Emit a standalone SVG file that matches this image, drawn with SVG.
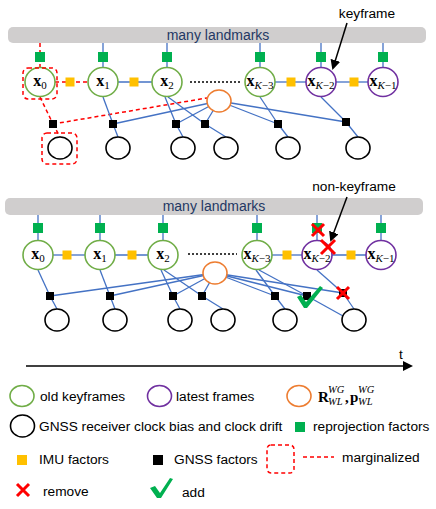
<svg xmlns="http://www.w3.org/2000/svg" width="436" height="509" viewBox="0 0 436 509">
<defs>
<style>
.bar{fill:#D0CECE;}
.bartxt{font-family:"Liberation Sans",Arial,sans-serif;font-size:14px;fill:#1F3864;text-anchor:middle;}
.e{stroke:#4472C4;stroke-width:1.3;fill:none;}
.m{stroke:#FF0000;stroke-width:1.5;stroke-dasharray:4,3;fill:none;}
.dot{stroke:#000;stroke-width:1.6;stroke-dasharray:2,2;fill:none;}
.old{fill:#fff;stroke:#70AD47;stroke-width:1.6;}
.new{fill:#fff;stroke:#7030A0;stroke-width:1.6;}
.ori{fill:#fff;stroke:#ED7D31;stroke-width:1.6;}
.clk{fill:#fff;stroke:#000;stroke-width:1.6;}
.rep{fill:#00B050;}
.imu{fill:#FFC000;}
.gnss{fill:#000;}
.lbl{font-family:"Liberation Serif","Times New Roman",serif;font-size:16px;font-weight:bold;text-anchor:middle;fill:#000;}
.sub{font-size:11px;font-weight:normal;}
.it{font-style:italic;}
.txt{font-family:"Liberation Sans",Arial,sans-serif;font-size:13.7px;fill:#000;}
.x{stroke:#FF0000;stroke-width:3;fill:none;}
.chk{fill:#00B050;}
.arr{stroke:#000;stroke-width:1.5;fill:none;}
</style>
<marker id="ah" markerWidth="10" markerHeight="10" refX="8" refY="5" orient="auto" markerUnits="userSpaceOnUse">
<path d="M0,0 L10,5 L0,10 z" fill="#000"/>
</marker>
</defs>
<rect width="436" height="509" fill="#fff"/>

<!-- ===== TOP DIAGRAM ===== -->
<g id="top-bar">
<rect class="bar" x="8" y="27" width="418" height="16" rx="5"/>
<text class="bartxt" x="218" y="39.5">many landmarks</text>
</g>

<g id="top-connectors">
<!-- bar to nodes -->
<line class="m" x1="40" y1="43" x2="40" y2="67"/>
<line class="e" x1="103" y1="43" x2="103" y2="67"/>
<line class="e" x1="167" y1="43" x2="167" y2="67"/>
<line class="e" x1="260" y1="43" x2="260" y2="67"/>
<line class="e" x1="321" y1="43" x2="321" y2="67"/>
<line class="e" x1="383" y1="43" x2="383" y2="67"/>
<!-- imu chain -->
<line class="m" x1="55" y1="82" x2="88" y2="82"/>
<line class="e" x1="118" y1="82" x2="152" y2="82"/>
<line class="dot" x1="190" y1="82" x2="240" y2="82"/>
<line class="e" x1="275" y1="82" x2="306" y2="82"/>
<line class="e" x1="336" y1="82" x2="368" y2="82"/>
<!-- gnss -->
<line class="m" x1="40" y1="97" x2="53" y2="124"/>
<line class="m" x1="53" y1="124" x2="60" y2="137"/>
<line class="m" x1="53" y1="124" x2="207" y2="98"/>
<line class="e" x1="103" y1="97" x2="113" y2="124"/>
<line class="e" x1="113" y1="124" x2="118" y2="137"/>
<line class="e" x1="113" y1="124" x2="219" y2="101"/>
<line class="e" x1="165" y1="97" x2="176" y2="124"/>
<line class="e" x1="168" y1="97" x2="205" y2="124"/>
<line class="e" x1="176" y1="124" x2="219" y2="101"/>
<line class="e" x1="205" y1="124" x2="219" y2="101"/>
<line class="e" x1="176" y1="124" x2="183" y2="137"/>
<line class="e" x1="205" y1="124" x2="226" y2="137"/>
<line class="e" x1="219" y1="101" x2="278" y2="124"/>
<line class="e" x1="219" y1="101" x2="346" y2="122"/>
<line class="e" x1="260" y1="97" x2="278" y2="124"/>
<line class="e" x1="278" y1="124" x2="288" y2="137"/>
<line class="e" x1="321" y1="97" x2="346" y2="122"/>
<line class="e" x1="346" y1="122" x2="358" y2="137"/>
</g>

<g id="top-factors">
<rect class="rep" x="35" y="52" width="10" height="10"/>
<rect class="rep" x="98" y="52" width="10" height="10"/>
<rect class="rep" x="162" y="52" width="10" height="10"/>
<rect class="rep" x="255" y="52" width="10" height="10"/>
<rect class="rep" x="316" y="52" width="10" height="10"/>
<rect class="rep" x="378" y="52" width="10" height="10"/>
<rect class="imu" x="65.5" y="77.5" width="9" height="9"/>
<rect class="imu" x="129.5" y="77.5" width="9" height="9"/>
<rect class="imu" x="286.5" y="77.5" width="9" height="9"/>
<rect class="imu" x="349.5" y="77.5" width="9" height="9"/>
<rect class="gnss" x="49" y="120" width="8" height="8"/>
<rect class="gnss" x="109" y="120" width="8" height="8"/>
<rect class="gnss" x="172" y="120" width="8" height="8"/>
<rect class="gnss" x="201" y="120" width="8" height="8"/>
<rect class="gnss" x="274" y="120" width="8" height="8"/>
<rect class="gnss" x="342" y="118" width="8" height="8"/>
</g>

<g id="t-x0"><ellipse class="old" cx="40" cy="82" rx="15" ry="14.5"/><text class="lbl" x="40" y="86">x<tspan class="sub" dy="3">0</tspan></text></g>
<g id="t-x1"><ellipse class="old" cx="103" cy="82" rx="15" ry="14.5"/><text class="lbl" x="103" y="86">x<tspan class="sub" dy="3">1</tspan></text></g>
<g id="t-x2"><ellipse class="old" cx="167" cy="82" rx="15" ry="14.5"/><text class="lbl" x="167" y="86">x<tspan class="sub" dy="3">2</tspan></text></g>
<g id="t-xk3"><ellipse class="old" cx="260" cy="82" rx="15" ry="14.5"/><text class="lbl" x="260" y="86">x<tspan class="sub" dy="3"><tspan class="it">K</tspan>−3</tspan></text></g>
<g id="t-xk2"><ellipse class="new" cx="321" cy="82" rx="15" ry="14.5"/><text class="lbl" x="321" y="86">x<tspan class="sub" dy="3"><tspan class="it">K</tspan>−2</tspan></text></g>
<g id="t-xk1"><ellipse class="new" cx="383" cy="82" rx="15" ry="14.5"/><text class="lbl" x="383" y="86">x<tspan class="sub" dy="3"><tspan class="it">K</tspan>−1</tspan></text></g>
<g id="t-ori"><ellipse class="ori" cx="219" cy="101" rx="12" ry="11"/></g>
<g id="t-c1"><ellipse class="clk" cx="60" cy="148" rx="12" ry="11"/></g>
<g id="t-c2"><ellipse class="clk" cx="118" cy="148" rx="12" ry="11"/></g>
<g id="t-c3"><ellipse class="clk" cx="183" cy="148" rx="12" ry="11"/></g>
<g id="t-c4"><ellipse class="clk" cx="226" cy="148" rx="12" ry="11"/></g>
<g id="t-c5"><ellipse class="clk" cx="288" cy="148" rx="12" ry="11"/></g>
<g id="t-c6"><ellipse class="clk" cx="358" cy="148" rx="12" ry="11"/></g>
<g id="t-marg">
<rect class="m" x="23" y="68" width="34" height="31" rx="5"/>
<rect class="m" x="42" y="133" width="35" height="31" rx="5"/>
</g>
<g id="t-keyframe">
<text class="txt" x="367" y="18" text-anchor="middle">keyframe</text>
<line class="arr" x1="347" y1="23" x2="333" y2="68" marker-end="url(#ah)"/>
</g>

<!-- ===== BOTTOM DIAGRAM ===== -->
<g id="bot-bar">
<rect class="bar" x="5" y="198" width="418" height="17" rx="5"/>
<text class="bartxt" x="214" y="211">many landmarks</text>
</g>

<g id="bot-connectors">
<line class="e" x1="38" y1="215" x2="38" y2="241"/>
<line class="e" x1="100" y1="215" x2="100" y2="241"/>
<line class="e" x1="163" y1="215" x2="163" y2="241"/>
<line class="e" x1="257" y1="215" x2="257" y2="241"/>
<line class="e" x1="317" y1="215" x2="317" y2="241"/>
<line class="e" x1="381" y1="215" x2="381" y2="241"/>
<line class="e" x1="53" y1="255" x2="85" y2="255"/>
<line class="e" x1="115" y1="255" x2="148" y2="255"/>
<line class="dot" x1="188" y1="254" x2="237" y2="254"/>
<line class="e" x1="272" y1="255" x2="302" y2="255"/>
<line class="e" x1="332" y1="255" x2="366" y2="255"/>
<line class="e" x1="38" y1="270" x2="50" y2="296"/>
<line class="e" x1="50" y1="296" x2="57" y2="309"/>
<line class="e" x1="50" y1="296" x2="215" y2="273"/>
<line class="e" x1="100" y1="270" x2="110" y2="296"/>
<line class="e" x1="110" y1="296" x2="115" y2="309"/>
<line class="e" x1="110" y1="296" x2="215" y2="273"/>
<line class="e" x1="161" y1="270" x2="173" y2="296"/>
<line class="e" x1="164" y1="270" x2="202" y2="296"/>
<line class="e" x1="173" y1="296" x2="215" y2="273"/>
<line class="e" x1="202" y1="296" x2="215" y2="273"/>
<line class="e" x1="173" y1="296" x2="180" y2="309"/>
<line class="e" x1="202" y1="296" x2="223" y2="309"/>
<line class="e" x1="215" y1="273" x2="275" y2="296"/>
<line class="e" x1="215" y1="273" x2="307" y2="296"/>
<line class="e" x1="215" y1="273" x2="343" y2="293"/>
<line class="e" x1="256" y1="270" x2="275" y2="296"/>
<line class="e" x1="259" y1="270" x2="307" y2="296"/>
<line class="e" x1="275" y1="296" x2="285" y2="309"/>
<line class="e" x1="307" y1="296" x2="343" y2="316"/>
<line class="e" x1="317" y1="270" x2="343" y2="293"/>
<line class="e" x1="343" y1="293" x2="354" y2="309"/>
</g>

<g id="bot-factors">
<rect class="rep" x="33" y="223" width="10" height="10"/>
<rect class="rep" x="95" y="223" width="10" height="10"/>
<rect class="rep" x="158" y="223" width="10" height="10"/>
<rect class="rep" x="252" y="223" width="10" height="10"/>
<rect class="rep" x="312" y="223" width="10" height="10"/>
<rect class="rep" x="376" y="223" width="10" height="10"/>
<rect class="imu" x="62.5" y="250.5" width="9" height="9"/>
<rect class="imu" x="127.5" y="250.5" width="9" height="9"/>
<rect class="imu" x="282.5" y="250.5" width="9" height="9"/>
<rect class="imu" x="346.5" y="250.5" width="9" height="9"/>
<rect class="gnss" x="46" y="292" width="8" height="8"/>
<rect class="gnss" x="106" y="292" width="8" height="8"/>
<rect class="gnss" x="169" y="292" width="8" height="8"/>
<rect class="gnss" x="198" y="292" width="8" height="8"/>
<rect class="gnss" x="271" y="292" width="8" height="8"/>
<rect class="gnss" x="303" y="292" width="8" height="8"/>
<rect class="gnss" x="339" y="289" width="8" height="8"/>
</g>

<g id="b-x0"><ellipse class="old" cx="38" cy="255" rx="15" ry="14.5"/><text class="lbl" x="38" y="259">x<tspan class="sub" dy="3">0</tspan></text></g>
<g id="b-x1"><ellipse class="old" cx="100" cy="255" rx="15" ry="14.5"/><text class="lbl" x="100" y="259">x<tspan class="sub" dy="3">1</tspan></text></g>
<g id="b-x2"><ellipse class="old" cx="163" cy="255" rx="15" ry="14.5"/><text class="lbl" x="163" y="259">x<tspan class="sub" dy="3">2</tspan></text></g>
<g id="b-xk3"><ellipse class="old" cx="257" cy="255" rx="15" ry="14.5"/><text class="lbl" x="257" y="259">x<tspan class="sub" dy="3"><tspan class="it">K</tspan>−3</tspan></text></g>
<g id="b-xk2"><ellipse class="new" cx="317" cy="255" rx="15" ry="14.5"/><text class="lbl" x="317" y="259">x<tspan class="sub" dy="3"><tspan class="it">K</tspan>−2</tspan></text></g>
<g id="b-xk1"><ellipse class="new" cx="381" cy="255" rx="15" ry="14.5"/><text class="lbl" x="381" y="259">x<tspan class="sub" dy="3"><tspan class="it">K</tspan>−1</tspan></text></g>
<g id="b-ori"><ellipse class="ori" cx="215" cy="273" rx="12" ry="11"/></g>
<g id="b-c1"><ellipse class="clk" cx="57" cy="320" rx="12" ry="11"/></g>
<g id="b-c2"><ellipse class="clk" cx="115" cy="320" rx="12" ry="11"/></g>
<g id="b-c3"><ellipse class="clk" cx="180" cy="320" rx="12" ry="11"/></g>
<g id="b-c4"><ellipse class="clk" cx="223" cy="320" rx="12" ry="11"/></g>
<g id="b-c5"><ellipse class="clk" cx="285" cy="320" rx="12" ry="11"/></g>
<g id="b-c6"><ellipse class="clk" cx="354" cy="320" rx="12" ry="11"/></g>

<g id="b-nonkey">
<text class="txt" x="354" y="191" text-anchor="middle">non-keyframe</text>
<line class="arr" x1="347" y1="197" x2="331" y2="240" marker-end="url(#ah)"/>
</g>
<g id="b-marks">
<path class="x" d="M312,224 L324,236 M324,224 L312,236"/>
<path class="x" d="M321,240 L335,254 M335,240 L321,254"/>
<path class="x" d="M337,287 L349,299 M349,287 L337,299"/>
<path class="chk" d="M297,297 L301,295 L306,302 L320,286 L323,288 L307,308 L304,308 Z"/>
</g>

<!-- ===== TIMELINE ===== -->
<g id="timeline">
<line x1="26" y1="366" x2="405" y2="366" stroke="#000" stroke-width="1.5"/>
<path d="M413,366 L403,361 L403,371 Z" fill="#000"/>
<text class="txt" x="399" y="359">t</text>
</g>

<!-- ===== LEGEND ===== -->
<g id="legend">
<ellipse class="old" cx="22" cy="396" rx="12" ry="10.5"/>
<text class="txt" x="40" y="401">old keyframes</text>
<ellipse class="new" cx="159.5" cy="396" rx="12" ry="10.5"/>
<text class="txt" x="176" y="401">latest frames</text>
<ellipse class="ori" cx="299" cy="396" rx="12" ry="10.5"/>
<text x="318" y="402" font-family="'Liberation Serif','Times New Roman',serif" font-size="15" font-weight="bold">R</text>
<text x="328" y="405" font-family="'Liberation Serif','Times New Roman',serif" font-size="10.5" font-style="italic">WL</text>
<text x="328" y="393" font-family="'Liberation Serif','Times New Roman',serif" font-size="10.5" font-style="italic">WG</text>
<text x="345" y="402" font-family="'Liberation Serif','Times New Roman',serif" font-size="15" font-weight="bold">,</text>
<text x="350" y="402" font-family="'Liberation Serif','Times New Roman',serif" font-size="15" font-weight="bold">p</text>
<text x="358" y="405" font-family="'Liberation Serif','Times New Roman',serif" font-size="10.5" font-style="italic">WL</text>
<text x="358" y="393" font-family="'Liberation Serif','Times New Roman',serif" font-size="10.5" font-style="italic">WG</text>
<ellipse class="clk" cx="22.5" cy="426" rx="12" ry="11"/>
<text class="txt" x="39" y="430.5">GNSS receiver clock bias and clock drift</text>
<rect class="rep" x="295" y="422" width="10" height="10"/>
<text class="txt" x="313" y="430.5">reprojection factors</text>
<rect class="imu" x="17" y="455" width="10" height="10"/>
<text class="txt" x="39" y="464">IMU factors</text>
<rect class="gnss" x="153" y="455" width="10" height="10"/>
<text class="txt" x="174" y="464">GNSS factors</text>
<rect class="m" x="267" y="445" width="27" height="28" rx="4"/>
<line class="m" x1="303" y1="457" x2="334" y2="457"/>
<text class="txt" x="342" y="462">marginalized</text>
<path class="x" d="M17,484 L29,496 M29,484 L17,496"/>
<text class="txt" x="43" y="496">remove</text>
<path class="chk" d="M150,488 L155,486 L160,493 L170,478 L173,479 L161,498 L157,498 Z"/>
<text class="txt" x="182" y="497">add</text>
</g>
</svg>
